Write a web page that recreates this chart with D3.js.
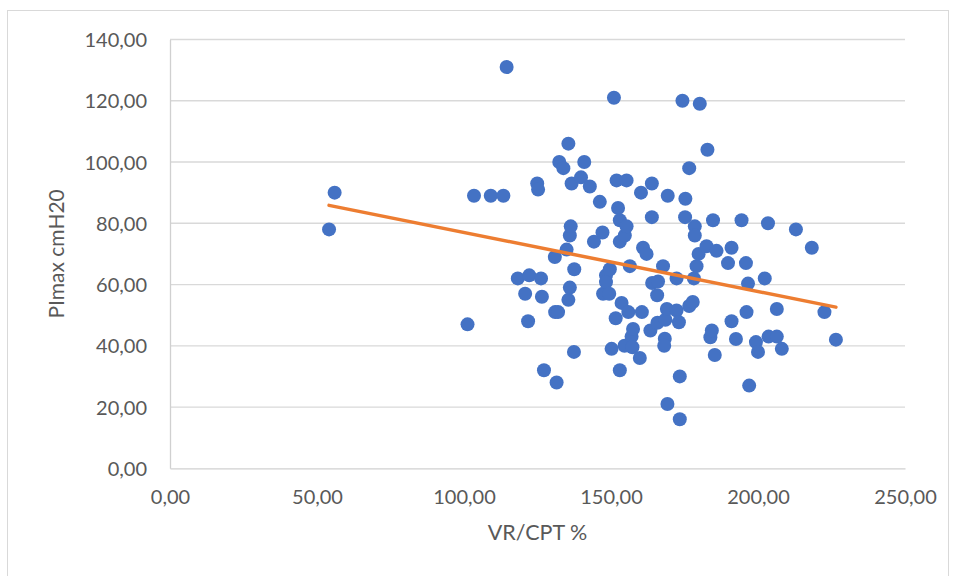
<!DOCTYPE html>
<html>
<head>
<meta charset="utf-8">
<script src="https://cdn.jsdelivr.net/npm/d3@7"></script>
<style>
  html, body { margin: 0; padding: 0; background: #fff; }
  svg { display: block; font-family: Lato, "Open Sans", "Liberation Sans", sans-serif; }
</style>
</head>
<body>
<svg id="chart" width="955" height="576"></svg>
<script>
// ---- data ----
const vrCpt = [
  54.1, 56.0, 101.2, 103.4, 109.1, 113.4, 114.5, 118.3, 120.8, 121.8,
  122.2, 124.9, 125.2, 126.2, 126.5, 127.2, 130.9, 131.0, 132.0, 131.5,
  132.4, 133.8, 134.9, 135.5, 135.5, 136.0, 136.0, 136.3, 136.6, 137.5,
  137.4, 139.8, 140.9, 142.8, 144.2, 146.2, 147.1, 147.3, 148.3, 148.3,
  149.4, 149.6, 150.2, 151.0, 151.6, 151.9, 152.4, 153.0, 153.0, 153.0,
  153.6, 154.7, 154.6, 155.3, 155.3, 155.9, 156.4, 157.0, 157.5, 157.3,
  159.8, 160.2, 160.5, 160.9, 162.1, 163.4, 163.9, 163.9, 164.0, 166.0,
  165.7, 165.8, 167.7, 168.3, 168.1, 168.5, 169.0, 169.3, 169.2, 172.3,
  172.3, 173.1, 173.4, 173.4, 174.3, 175.3, 175.2, 176.6, 176.6, 177.8,
  178.2, 178.5, 178.5, 179.1, 179.8, 180.2, 182.5, 182.8, 183.8, 184.3,
  184.7, 185.3, 185.9, 189.8, 191.0, 191.0, 192.5, 194.4, 195.9, 196.1,
  196.6, 197.0, 199.3, 200.0, 202.3, 203.4, 203.6, 206.4, 206.4, 208.1,
  212.9, 218.3, 222.6, 226.5
];
const pimax = [
  78, 90, 47, 89, 89, 89, 131, 62, 57, 48,
  63, 93, 91, 62, 56, 32, 69, 51, 51, 28,
  100, 98, 71.4, 106, 55, 59, 76, 79, 93, 65,
  38, 95, 100, 92, 74, 87, 77, 57, 63, 60.8,
  57, 65, 39, 121, 49, 94, 85, 81, 74, 32,
  54, 76, 40, 94, 79, 51, 66, 43, 45.5, 39.5,
  36, 90, 51, 72, 70, 45, 93, 82, 60.5, 61,
  56.5, 47.5, 66, 42.3, 40, 48.5, 52, 89, 21, 62,
  51.5, 47.7, 30, 16, 120, 88, 82, 98, 53, 54.3,
  62, 79, 76, 66, 70, 119, 72.5, 104, 42.8, 45,
  81, 37, 71, 67, 72, 48, 42.2, 81, 67, 51,
  60.3, 27, 41.2, 38, 62, 80, 43, 43, 52, 39,
  78, 72, 51, 42
];
const xTicks = [0, 50, 100, 150, 200, 250];
const yTicks = [0, 20, 40, 60, 80, 100, 120, 140];
const xTitle = "VR/CPT %";
const yTitle = "PImax cmH20";

// ---- layout ----
const plot = { left: 170, right: 905, top: 39.5, bottom: 468.3 };
const svg = d3.select("#chart");
const locale = d3.formatLocale({ decimal: ",", thousands: ".", grouping: [3], currency: ["", ""] });
const fmt = locale.format(".2f");

const x = d3.scaleLinear().domain([0, 250]).range([plot.left, plot.right]);
const y = d3.scaleLinear().domain([0, 140]).range([plot.bottom, plot.top]);

// outer chart border
svg.append("rect")
  .attr("x", 7.5).attr("y", 10.5).attr("width", 941).attr("height", 575)
  .attr("fill", "#fff").attr("stroke", "#d9d9d9").attr("stroke-width", 1);

// gridlines
svg.append("g").selectAll("line").data(yTicks.filter(d => d > 0)).join("line")
  .attr("x1", plot.left).attr("x2", plot.right)
  .attr("y1", d => y(d)).attr("y2", d => y(d))
  .attr("stroke", "#d9d9d9").attr("stroke-width", 1.3);

// axes
const yAxis = d3.axisLeft(y).tickValues(yTicks).tickFormat(fmt).tickSize(0).tickPadding(23);
const xAxis = d3.axisBottom(x).tickValues(xTicks).tickFormat(fmt).tickSize(0).tickPadding(22);

const gy = svg.append("g").attr("transform", `translate(${plot.left},0)`).call(yAxis);
const gx = svg.append("g").attr("transform", `translate(0,${plot.bottom})`).call(xAxis);
[gx, gy].forEach(g => {
  g.select(".domain").attr("stroke", "#d0d0d0").attr("stroke-width", 1.3);
  g.selectAll("text").attr("fill", "#595959").style("font-size", "20px")
    .style("font-family", "Lato, 'Open Sans', sans-serif");
});
gy.selectAll("text").attr("dy", "0.35em");

// axis titles
svg.append("text")
  .attr("x", (plot.left + plot.right) / 2).attr("y", 540)
  .attr("text-anchor", "middle").attr("fill", "#595959")
  .style("font-size", "21.5px").text(xTitle);
svg.append("text")
  .attr("transform", `translate(64,${(plot.top + plot.bottom) / 2}) rotate(-90)`)
  .attr("text-anchor", "middle").attr("fill", "#595959")
  .style("font-size", "21px").text(yTitle);

// points
const pts = vrCpt.map((v, i) => ({ x: v, y: pimax[i] }));
svg.append("g").selectAll("circle").data(pts).join("circle")
  .attr("cx", d => x(d.x)).attr("cy", d => y(d.y)).attr("r", 7)
  .attr("fill", "#4472C4");

// linear trendline (least squares)
const mx = d3.mean(pts, d => d.x), my = d3.mean(pts, d => d.y);
const slope = d3.sum(pts, d => (d.x - mx) * (d.y - my)) / d3.sum(pts, d => (d.x - mx) ** 2);
const icpt = my - slope * mx;
const [x0, x1] = d3.extent(pts, d => d.x);
svg.append("line")
  .attr("x1", x(x0)).attr("y1", y(icpt + slope * x0))
  .attr("x2", x(x1)).attr("y2", y(icpt + slope * x1))
  .attr("stroke", "#ED7D31").attr("stroke-width", 3.5).attr("stroke-linecap", "round");
</script>
</body>
</html>
